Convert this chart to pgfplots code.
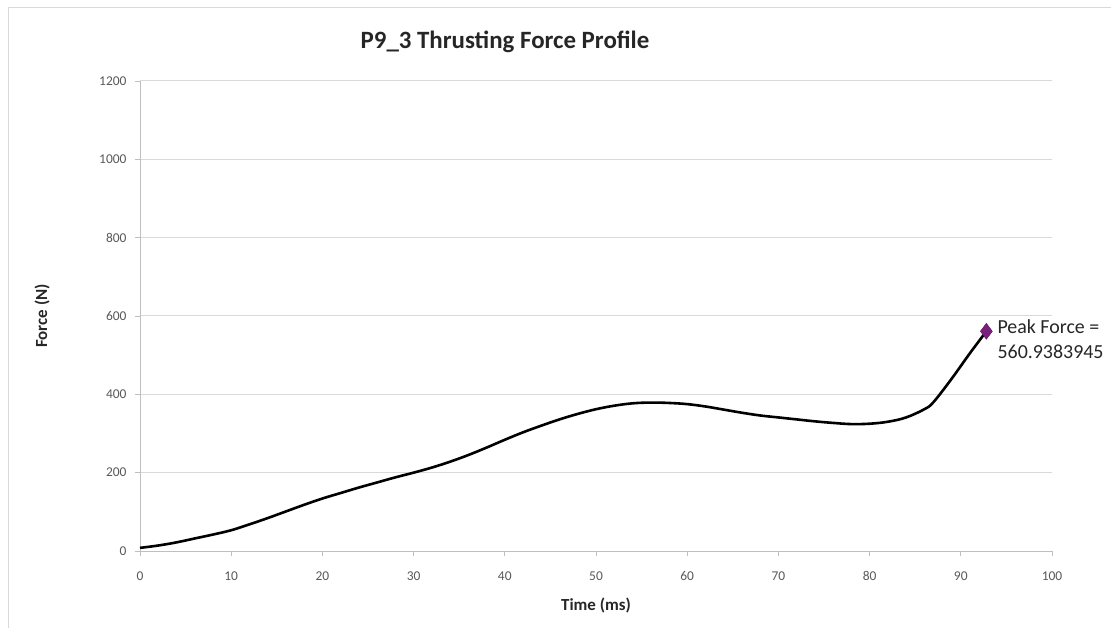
\documentclass[border=0pt]{standalone}
\usepackage{fontspec}
\setmainfont{Carlito}
\usepackage{pgfplots}
\pgfplotsset{compat=1.18}
\definecolor{gridgray}{HTML}{D9D9D9}
\definecolor{axgray}{HTML}{BFBFBF}
\definecolor{ticktext}{HTML}{595959}
\definecolor{peak}{HTML}{7A1F7E}
\begin{document}
\begin{tikzpicture}
\useasboundingbox (0,0) rectangle (1111bp,628bp);
\draw[color=gridgray, line width=1bp] (8bp,0) -- (8bp,620bp) -- (1111bp,620bp);
\node[font=\bfseries\fontsize{25}{30}\selectfont, color=black!85] at (505bp,586bp) {P9\_3 Thrusting Force Profile};
\node[font=\bfseries\fontsize{17}{20}\selectfont, color=black!85] at (596bp,23bp) {Time (ms)};
\node[font=\bfseries\fontsize{17}{20}\selectfont, color=black!85, rotate=90] at (42bp,312bp) {Force (N)};
\begin{axis}[
  at={(140bp,77bp)}, anchor=south west,
  width=912bp, height=470bp, scale only axis,
  xmin=0, xmax=100, ymin=0, ymax=1200,
  xtick={0,10,...,100}, ytick={0,200,...,1200},
  axis lines=left, axis line style={-, color=axgray, line width=0.8bp},
  ymajorgrids, grid style={color=gridgray, line width=1bp},
  tick align=outside, tick style={color=axgray, line width=0.8bp},
  major tick length=5bp,
  /pgf/number format/assume math mode=true,
  /pgf/number format/1000 sep={},
  ticklabel style={font=\fontsize{13.5}{16}\selectfont, color=ticktext},
  xticklabel style={anchor=center, yshift=-8bp, text height=9bp, text depth=0pt},
  xticklabel shift=12bp,
  yticklabel style={anchor=east, xshift=-5bp},
  clip=false,
]
\addplot[black, line width=2.6bp, smooth, tension=0.6] coordinates {
(0,8) (2,14) (4,22) (6,32) (8,42) (10,53) (12,68) (14,84) (16,101) (18,118)
(20,134) (22,148) (24,162) (26,175) (28,188) (30,200) (32,213) (34,228)
(36,245) (38,264) (40,284) (42,303) (44,320) (46,336) (48,350) (50,362)
(52,371) (54,377) (56,379) (58,378) (60,375) (62,369) (64,361) (66,353)
(68,346) (70,341) (72,336) (74,331) (76,327) (78,324) (80,325) (82,330)
(84,341) (86,362) (87,380) (89,440) (91,505) (92.8,560.94)
};
\addplot[only marks, mark=diamond*, mark size=8bp, color=peak, mark options={fill=peak, draw=peak!70!black}] coordinates {(92.8,560.94)};
\node[anchor=north west, align=left, font=\fontsize{20}{25}\selectfont, color=black!85, inner sep=0pt] at ([xshift=11bp, yshift=12bp]axis cs:92.8,560.94) {Peak Force =\\560.9383945};
\end{axis}
\end{tikzpicture}
\end{document}
